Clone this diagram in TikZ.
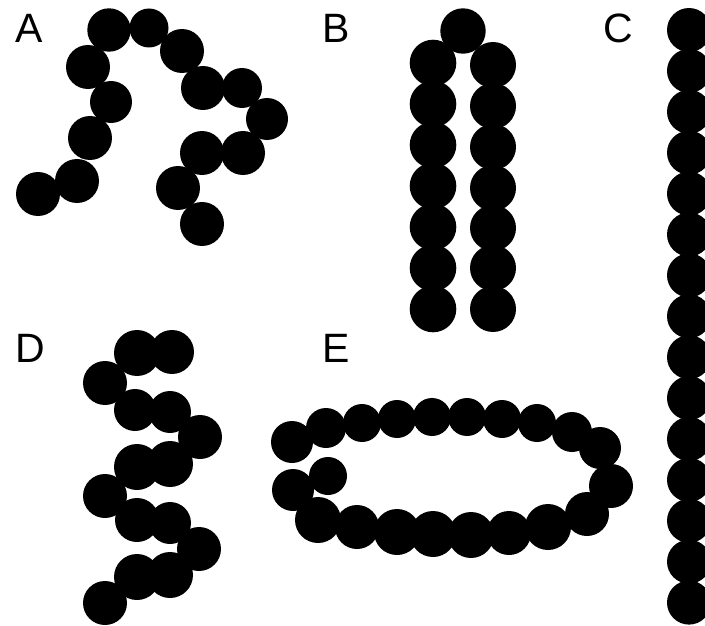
\documentclass[tikz,border=0pt]{standalone}
\usepackage{fontspec}
\setmainfont{Liberation Sans}
\begin{document}
\begin{tikzpicture}[x=1pt,y=-1pt,
  bead/.style={fill=black},
  lbl/.style={inner sep=0pt,anchor=center,font=\fontsize{41}{41}\selectfont}]
\useasboundingbox (0,0) rectangle (705,626);
% labels
\node[lbl] (lA) at (29,28) {A};
\node[lbl] (lB) at (336,28) {B};
\node[lbl] (lC) at (618,28) {C};
\node[lbl] (lD) at (30,348) {D};
\node[lbl] (lE) at (336,348) {E};
% A
\foreach \x/\y/\r in {109/30/21.7, 149/28/19.5, 182/51/22, 88/67/22, 111/102/21,
  203/88/22, 242/88/20, 267/119/21, 90/138/22, 202/153/22, 243/153/22,
  77/181/22, 38/194/22, 178/188/22, 202/224/22}
  \fill[bead] (\x,\y) circle (\r);
% B
\fill[bead] (463,31) circle (22.7);
\foreach \y in {63,104,145,186,227,268,309}
  \fill[bead] (433,\y) circle (23.3);
\foreach \y in {65,106,147,188,228,268,309}
  \fill[bead] (493,\y) circle (23);
% C
\foreach \i in {0,...,14}
  \fill[bead] (689,30+40.9*\i) circle (22);
% D
\foreach \x/\y/\r in {137/353/23, 172/352/22, 105/383/22, 135/410/21, 170/412/21,
  200/437/22, 137/467/23, 170/464/23, 105/496/22, 137/520/22, 170/523/21,
  199/549/22, 137/577/23, 170/575/23, 105/603/22}
  \fill[bead] (\x,\y) circle (\r);
% E
\foreach \x/\y/\r in {292/442/21, 326/428/20, 362/423/19, 397/419/19, 432/417/19,
  467/417/19, 502/419/19, 537/423/19, 572/432/20, 600/448/21, 611/486/22,
  587/514/22, 548/527/23, 509/533/22, 471/535/23, 433/534/23, 397/532/23,
  357/527/22, 318/520/23, 293/490/21, 328/476/19}
  \fill[bead] (\x,\y) circle (\r);
\end{tikzpicture}
\end{document}
